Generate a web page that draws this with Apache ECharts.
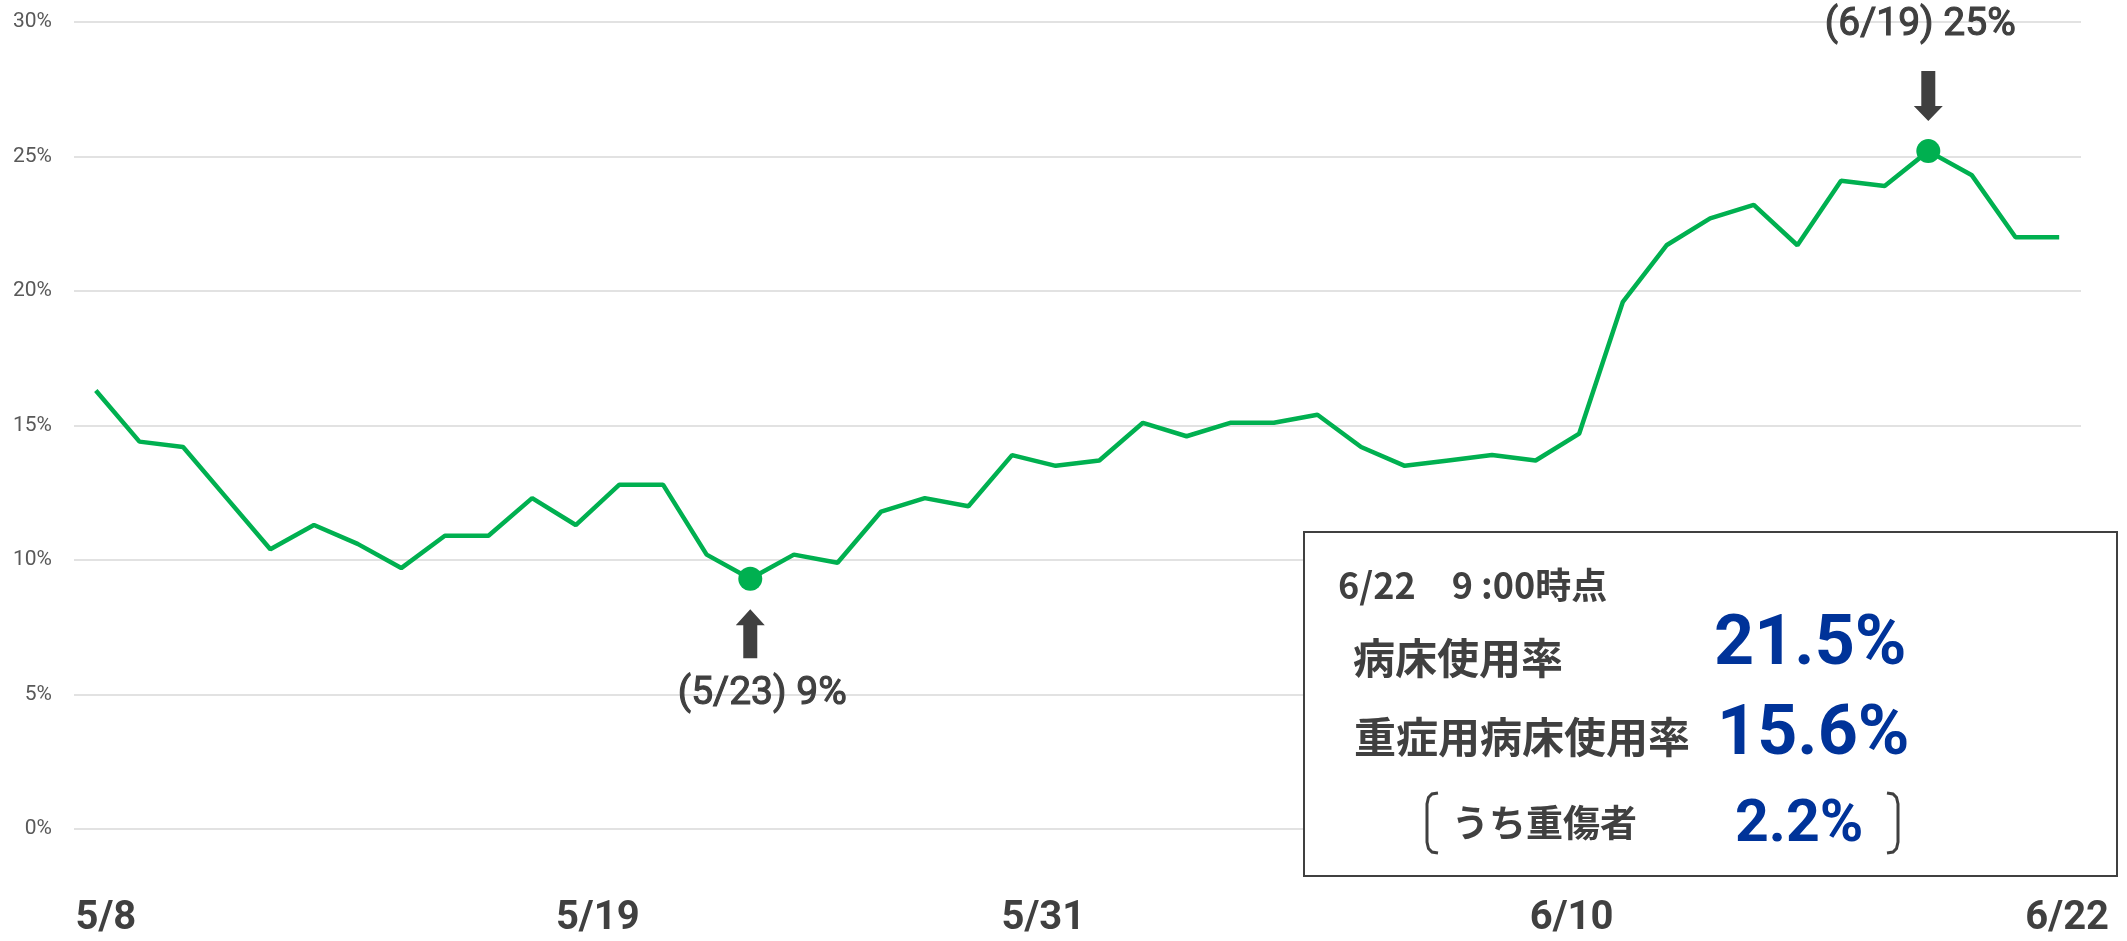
<!DOCTYPE html>
<html>
<head>
<meta charset="utf-8">
<script src="https://cdn.jsdelivr.net/npm/echarts@6/dist/echarts.min.js"></script>
<style>
  html, body { margin: 0; padding: 0; background: #fff; }
  #chart { width: 2127px; height: 941px; }
</style>
</head>
<body>
<div id="chart"></div>
<script>
// daily occupancy, 5/8 .. 6/22
const dates = [
  '5/8', '5/9', '5/10', '5/11', '5/12', '5/13', '5/14', '5/15', '5/16', '5/17',
  '5/18', '5/19', '5/20', '5/21', '5/22', '5/23', '5/24', '5/25', '5/26', '5/27',
  '5/28', '5/29', '5/30', '5/31', '6/1', '6/2', '6/3', '6/4', '6/5', '6/6',
  '6/7', '6/8', '6/9', '6/10', '6/11', '6/12', '6/13', '6/14', '6/15', '6/16',
  '6/17', '6/18', '6/19', '6/20', '6/21', '6/22'
]
const rates = [
  16.3, 14.4, 14.2, 12.3, 10.4, 11.3, 10.6, 9.7, 10.9, 10.9,
  12.3, 11.3, 12.8, 12.8, 10.2, 9.3, 10.2, 9.9, 11.8, 12.3,
  12.0, 13.9, 13.5, 13.7, 15.1, 14.6, 15.1, 15.1, 15.4, 14.2,
  13.5, 13.7, 13.9, 13.7, 14.7, 19.6, 21.7, 22.7, 23.2, 21.7,
  24.1, 23.9, 25.2, 24.3, 22.0, 22.0
]
const shownDates = ['5/8', '5/19', '5/31', '6/10', '6/22']
const yTicks = [0, 5, 10, 15, 20, 25, 30]

const lowPoint = { date: '5/23', label: '(5/23) 9%' }
const highPoint = { date: '6/19', label: '(6/19) 25%' }

const boxTitle = '6/22\u30009 :00時点'
const boxLabels = ['病床使用率', '重症用病床使用率', 'うち重傷者']
const boxValues = ['21.5%', '15.6%', '2.2%']

// where the date labels sit relative to their tick (px)
const labelNudge = [10, 22, -56, 36, 8]

const green = '#00B050'
const dark = '#404040'
const blue = '#003399'
const cjk = '"Noto Sans CJK JP", "Noto Sans", sans-serif'

const rich = {}
labelNudge.forEach((n, i) => {
  rich['d' + i] = {
    fontSize: 40,
    fontWeight: 'bold',
    fontFamily: 'Roboto',
    color: dark,
    lineHeight: 40,
    padding: n >= 0 ? [0, 0, 0, 2 * n] : [0, -2 * n, 0, 0]
  }
})

const seriesData = rates.map((v, i) => {
  const d = dates[i]
  if (d === lowPoint.date || d === highPoint.date) {
    return { value: v, symbol: 'circle', symbolSize: 24, itemStyle: { color: green } }
  }
  return v
})

const upArrow = 'path://M145,0 L290,160 L215,160 L215,490 L75,490 L75,160 L0,160 Z'
const downArrow = 'path://M75,0 L215,0 L215,350 L290,350 L145,500 L0,350 L75,350 Z'

// medium-ish weight: regular face with a thin outline
const annoLabel = {
  show: true,
  fontSize: 39,
  fontFamily: 'Roboto',
  color: dark,
  textBorderColor: dark,
  textBorderWidth: 1.1,
  lineHeight: 40
}

const bracketL = [[11, 0], [5, 1], [1.5, 4.5], [0, 11], [0, 49], [1.5, 55.5], [5, 59], [11, 60]]
const bracketR = bracketL.map(([x, y]) => [11 - x, y])

const chart = echarts.init(document.getElementById('chart'))
chart.setOption({
  animation: false,
  grid: { left: 74, right: 46, top: 22, bottom: 112, outerBoundsMode: 'none' },
  xAxis: {
    type: 'category',
    data: dates,
    boundaryGap: true,
    axisLine: { show: false },
    axisTick: { show: false },
    splitLine: { show: false },
    axisLabel: {
      margin: 70,
      interval: (idx, val) => shownDates.includes(val),
      formatter: (val) => `{d${shownDates.indexOf(val)}|${val}}`,
      rich
    }
  },
  yAxis: {
    type: 'value',
    min: yTicks[0],
    max: yTicks[yTicks.length - 1],
    interval: 5,
    axisLine: { show: false },
    axisTick: { show: false },
    axisLabel: {
      formatter: '{value}%',
      fontSize: 21,
      fontFamily: 'Roboto',
      color: '#595959',
      margin: 22
    },
    splitLine: { lineStyle: { color: '#d9d9d9', width: 1.5 } }
  },
  series: [{
    type: 'line',
    data: seriesData,
    symbol: 'none',
    lineStyle: { color: green, width: 4.5 },
    itemStyle: { color: green },
    markPoint: {
      silent: true,
      itemStyle: { color: dark, borderWidth: 0 },
      data: [
        {
          coord: [lowPoint.date, rates[dates.indexOf(lowPoint.date)]],
          symbol: upArrow,
          symbolSize: [29, 49],
          symbolOffset: [0, 55],
          label: { ...annoLabel, formatter: lowPoint.label, position: 'bottom', distance: 16, offset: [12, 0] }
        },
        {
          coord: [highPoint.date, rates[dates.indexOf(highPoint.date)]],
          symbol: downArrow,
          symbolSize: [29, 50],
          symbolOffset: [0, -55],
          label: { ...annoLabel, formatter: highPoint.label, position: 'top', distance: 26, offset: [-8, 0] }
        }
      ]
    }
  }],
  graphic: [
    {
      type: 'rect',
      z: 10,
      shape: { x: 1304, y: 532, width: 813, height: 344 },
      style: { fill: '#fff', stroke: dark, lineWidth: 2 }
    },
    {
      type: 'text', z: 11, x: 1338, y: 585,
      style: { text: boxTitle, font: `bold 36px ${cjk}`, fill: dark, verticalAlign: 'middle' }
    },
    {
      type: 'text', z: 11, x: 1353, y: 658,
      style: { text: boxLabels[0], font: `bold 42px ${cjk}`, fill: dark, verticalAlign: 'middle' }
    },
    {
      type: 'text', z: 11, x: 1354, y: 737,
      style: { text: boxLabels[1], font: `bold 42px ${cjk}`, fill: dark, verticalAlign: 'middle' }
    },
    {
      type: 'text', z: 11, x: 1452, y: 823,
      style: { text: boxLabels[2], font: `bold 37px ${cjk}`, fill: dark, verticalAlign: 'middle' }
    },
    {
      type: 'text', z: 11, x: 1714, y: 646,
      style: { text: boxValues[0], font: 'bold 70px Roboto', fill: blue, verticalAlign: 'middle' }
    },
    {
      type: 'text', z: 11, x: 1717, y: 736,
      style: { text: boxValues[1], font: 'bold 70px Roboto', fill: blue, verticalAlign: 'middle' }
    },
    {
      type: 'text', z: 11, x: 1735, y: 826,
      style: { text: boxValues[2], font: 'bold 59px Roboto', fill: blue, verticalAlign: 'middle' }
    },
    {
      type: 'polyline', z: 11, x: 1427, y: 793,
      shape: { points: bracketL },
      style: { stroke: dark, lineWidth: 3, fill: null }
    },
    {
      type: 'polyline', z: 11, x: 1887, y: 793,
      shape: { points: bracketR },
      style: { stroke: dark, lineWidth: 3, fill: null }
    }
  ]
})
</script>
</body>
</html>
